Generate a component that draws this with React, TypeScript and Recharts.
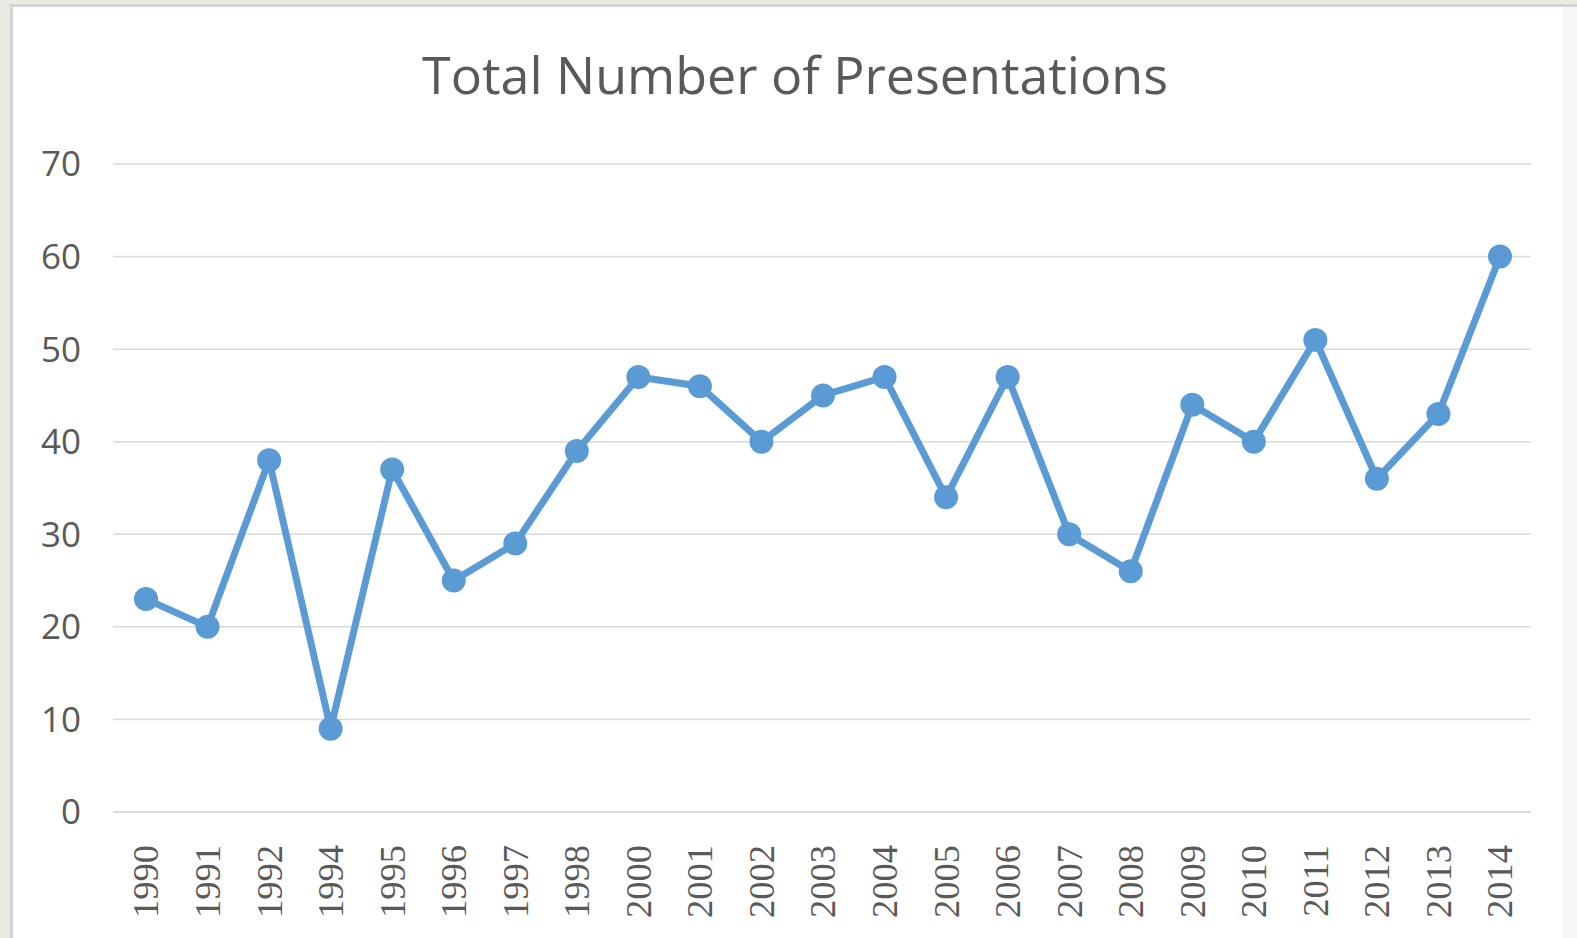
import React from 'react';
import { LineChart, Line, XAxis, YAxis, CartesianGrid } from 'recharts';

const years = ['1990','1991','1992','1994','1995','1996','1997','1998','2000','2001','2002','2003','2004','2005','2006','2007','2008','2009','2010','2011','2012','2013','2014'];
const presentations = [23,20,38,9,37,25,29,39,47,46,40,45,47,34,47,30,26,44,40,51,36,43,60];
const yTicks = [0,10,20,30,40,50,60,70];
const title = 'Total Number of Presentations';

const data = years.map((y, i) => ({ year: y, value: presentations[i] }));

const XTick = (props: any) => {
  const { x, y, payload } = props;
  return (
    <g transform={`translate(${x},${y})`}>
      <text
        transform="rotate(-90)"
        x={-25}
        y={0}
        dy="0.34em"
        textAnchor="end"
        fill="#595959"
        style={{ fontFamily: '"Liberation Serif", serif', fontSize: 36.5 }}
      >
        {payload.value}
      </text>
    </g>
  );
};

export default function App() {
  return (
    <div style={{ position: 'absolute', left: 0, top: 0, width: 1577, height: 938, background: '#ECE9E1', overflow: 'hidden' }}>
      <div style={{ position: 'absolute', left: 10, top: 4, right: 0, bottom: 0, background: '#ffffff', borderLeft: '3px solid #d4d4d4', borderTop: '3px solid #d4d4d4' }} />
      <div style={{ position: 'absolute', left: 1563, top: 7, width: 14, bottom: 0, background: '#f7f7f7' }} />
      <div style={{ position: 'absolute', left: 10, top: 37, width: 1570, textAlign: 'center', fontFamily: '"Open Sans"', fontSize: 52, color: '#595959', lineHeight: '74px' }}>
        {title}
      </div>
      <div style={{ position: 'absolute', left: 0, top: 0 }}>
        <LineChart width={1577} height={938} data={data} margin={{ top: 164, right: 46, bottom: 0, left: 33 }}>
          <CartesianGrid vertical={false} stroke="#d9d9d9" strokeWidth={1.5} />
          <XAxis
            dataKey="year"
            axisLine={{ stroke: '#d9d9d9', strokeWidth: 1.5 }}
            tickLine={false}
            interval={0}
            tick={<XTick />}
            height={126}
            padding={{ left: 33, right: 31 }}
          />
          <YAxis
            domain={[0, 70]}
            ticks={yTicks}
            axisLine={false}
            tickLine={false}
            width={80}
            tickMargin={26}
            tick={{ fill: '#595959', fontFamily: '"Open Sans"', fontSize: 35 }}
          />
          <Line
            type="linear"
            dataKey="value"
            stroke="#5B9BD5"
            strokeWidth={7}
            dot={{ r: 12, fill: '#5B9BD5', stroke: '#5B9BD5', strokeWidth: 0 }}
            isAnimationActive={false}
          />
        </LineChart>
      </div>
    </div>
  );
}
